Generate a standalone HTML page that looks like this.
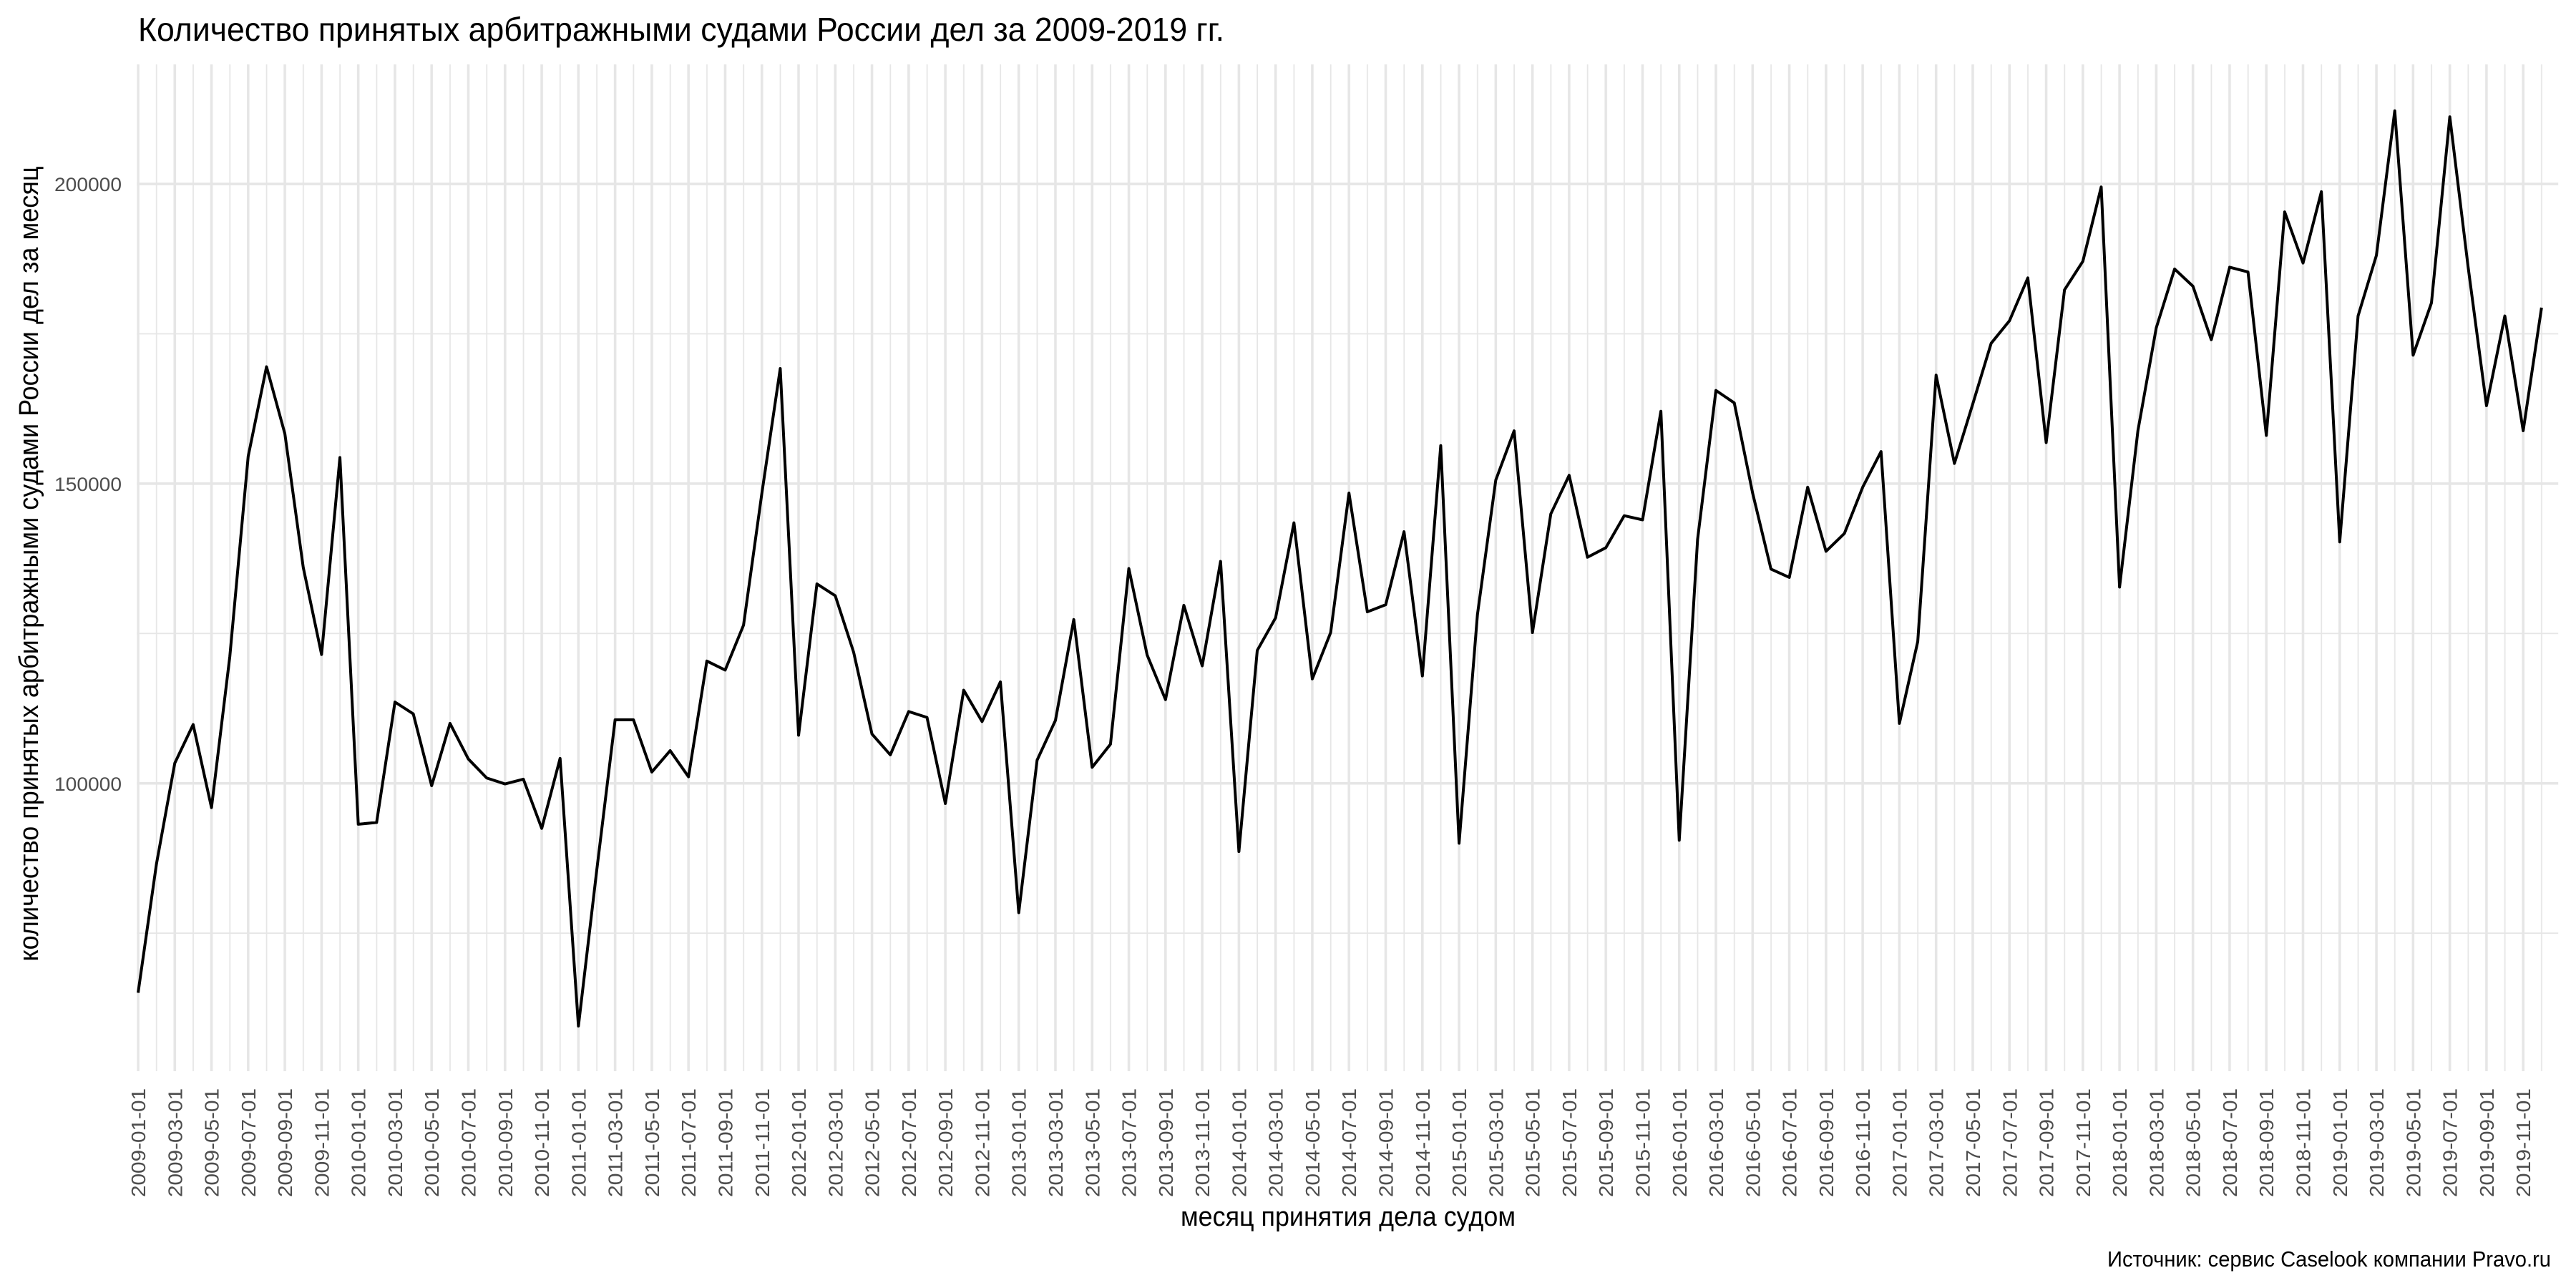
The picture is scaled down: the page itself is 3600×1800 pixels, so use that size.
<!DOCTYPE html>
<html><head><meta charset="utf-8"><style>html,body{margin:0;padding:0;background:#fff}svg{display:block}</style></head>
<body>
<svg width="3600" height="1800" viewBox="0 0 3600 1800" xmlns="http://www.w3.org/2000/svg" font-family="'Liberation Sans', sans-serif">
<defs>
<pattern id="vg" patternUnits="userSpaceOnUse" x="191.2" y="0" width="51.28" height="100">
<rect x="0" y="0" width="3.6" height="100" fill="#e6e6e6"/>
<rect x="26.64" y="0" width="1.8" height="100" fill="#e6e6e6"/>
</pattern>
</defs>
<rect x="0" y="0" width="3600" height="1800" fill="#fff"/>
<rect x="191.2" y="90" width="3384" height="1407" fill="url(#vg)"/>
<g fill="#e6e6e6">
<rect x="191.2" y="465.6" width="3384" height="1.8"/>
<rect x="191.2" y="884.4" width="3384" height="1.8"/>
<rect x="191.2" y="1303.2" width="3384" height="1.8"/>
<rect x="191.2" y="255.3" width="3384" height="3.6"/>
<rect x="191.2" y="674.1" width="3384" height="3.6"/>
<rect x="191.2" y="1092.9" width="3384" height="3.6"/>
</g>
<g transform="translate(193,1094.7) scale(25.64,-8.376) translate(-1,-100)">
<polyline fill="none" stroke="#000" stroke-width="4" vector-effect="non-scaling-stroke" stroke-linejoin="round" points="1,65.05 2,86.53 3,103.37 4,109.8 5,95.94 6,121.19 7,154.55 8,169.5 9,158.32 10,136.04 11,121.49 12,154.36 13,93.17 14,93.47 15,113.56 16,111.58 17,99.6 18,110 19,104.06 20,100.89 21,99.9 22,100.69 23,92.48 24,104.16 25,59.5 26,85.54 27,110.6 28,110.6 29,101.88 30,105.45 31,101.09 32,120.4 33,118.9 34,126.4 35,148.42 36,169.21 37,108.02 38,133.27 39,131.29 40,121.88 41,108.22 42,104.75 43,111.98 44,110.99 45,96.63 46,115.54 47,110.3 48,116.93 49,78.42 50,103.86 51,110.5 52,127.33 53,102.67 54,106.53 55,135.84 56,121.39 57,113.96 58,129.7 59,119.6 60,137.03 61,88.61 62,122.18 63,127.62 64,143.47 65,117.43 66,125.15 67,148.42 68,128.61 69,129.8 70,141.98 71,117.92 72,156.34 73,90 74,128.12 75,150.59 76,158.81 77,125.15 78,144.95 79,151.39 80,137.72 81,139.31 82,144.65 83,143.96 84,162.08 85,90.5 86,140.69 87,165.55 88,163.47 89,148.42 90,135.74 91,134.36 92,149.41 93,138.71 94,141.68 95,149.41 96,155.35 97,110 98,123.66 99,168.1 100,153.37 101,163.3 102,173.41 103,177.18 104,184.33 105,156.85 106,182.34 107,187.1 108,199.5 109,132.74 110,158.83 111,175.99 112,185.81 113,182.94 114,174.01 115,186.11 116,185.32 117,158.04 118,195.34 119,186.81 120,198.71 121,140.28 122,177.98 123,188.1 124,212.2 125,171.43 126,180.16 127,211.21 128,186.11 129,163 130,177.98 131,158.83 132,179.37"/>
</g>
<text x="193" y="57" font-size="46" fill="#000" textLength="1518" lengthAdjust="spacingAndGlyphs">Количество принятых арбитражными судами России дел за 2009-2019 гг.</text>
<g font-size="27" fill="#4d4d4d" text-anchor="end">
<text x="170" y="267" textLength="94" lengthAdjust="spacingAndGlyphs">200000</text>
<text x="170" y="686" textLength="94" lengthAdjust="spacingAndGlyphs">150000</text>
<text x="170" y="1105" textLength="94" lengthAdjust="spacingAndGlyphs">100000</text>
</g>
<text transform="translate(53,788) rotate(-90)" text-anchor="middle" font-size="38" fill="#000" textLength="1111" lengthAdjust="spacingAndGlyphs">количество принятых арбитражными судами России дел за месяц</text>
<g transform="rotate(-90)" font-size="28" fill="#4d4d4d" text-anchor="end">
<text x="-1521" y="203" textLength="152" lengthAdjust="spacingAndGlyphs">2009-01-01</text>
<text x="-1521" y="254.28" textLength="152" lengthAdjust="spacingAndGlyphs">2009-03-01</text>
<text x="-1521" y="305.56" textLength="152" lengthAdjust="spacingAndGlyphs">2009-05-01</text>
<text x="-1521" y="356.84" textLength="152" lengthAdjust="spacingAndGlyphs">2009-07-01</text>
<text x="-1521" y="408.12" textLength="152" lengthAdjust="spacingAndGlyphs">2009-09-01</text>
<text x="-1521" y="459.4" textLength="152" lengthAdjust="spacingAndGlyphs">2009-11-01</text>
<text x="-1521" y="510.68" textLength="152" lengthAdjust="spacingAndGlyphs">2010-01-01</text>
<text x="-1521" y="561.96" textLength="152" lengthAdjust="spacingAndGlyphs">2010-03-01</text>
<text x="-1521" y="613.24" textLength="152" lengthAdjust="spacingAndGlyphs">2010-05-01</text>
<text x="-1521" y="664.52" textLength="152" lengthAdjust="spacingAndGlyphs">2010-07-01</text>
<text x="-1521" y="715.8" textLength="152" lengthAdjust="spacingAndGlyphs">2010-09-01</text>
<text x="-1521" y="767.08" textLength="152" lengthAdjust="spacingAndGlyphs">2010-11-01</text>
<text x="-1521" y="818.36" textLength="152" lengthAdjust="spacingAndGlyphs">2011-01-01</text>
<text x="-1521" y="869.64" textLength="152" lengthAdjust="spacingAndGlyphs">2011-03-01</text>
<text x="-1521" y="920.92" textLength="152" lengthAdjust="spacingAndGlyphs">2011-05-01</text>
<text x="-1521" y="972.2" textLength="152" lengthAdjust="spacingAndGlyphs">2011-07-01</text>
<text x="-1521" y="1023.48" textLength="152" lengthAdjust="spacingAndGlyphs">2011-09-01</text>
<text x="-1521" y="1074.76" textLength="152" lengthAdjust="spacingAndGlyphs">2011-11-01</text>
<text x="-1521" y="1126.04" textLength="152" lengthAdjust="spacingAndGlyphs">2012-01-01</text>
<text x="-1521" y="1177.32" textLength="152" lengthAdjust="spacingAndGlyphs">2012-03-01</text>
<text x="-1521" y="1228.6" textLength="152" lengthAdjust="spacingAndGlyphs">2012-05-01</text>
<text x="-1521" y="1279.88" textLength="152" lengthAdjust="spacingAndGlyphs">2012-07-01</text>
<text x="-1521" y="1331.16" textLength="152" lengthAdjust="spacingAndGlyphs">2012-09-01</text>
<text x="-1521" y="1382.44" textLength="152" lengthAdjust="spacingAndGlyphs">2012-11-01</text>
<text x="-1521" y="1433.72" textLength="152" lengthAdjust="spacingAndGlyphs">2013-01-01</text>
<text x="-1521" y="1485" textLength="152" lengthAdjust="spacingAndGlyphs">2013-03-01</text>
<text x="-1521" y="1536.28" textLength="152" lengthAdjust="spacingAndGlyphs">2013-05-01</text>
<text x="-1521" y="1587.56" textLength="152" lengthAdjust="spacingAndGlyphs">2013-07-01</text>
<text x="-1521" y="1638.84" textLength="152" lengthAdjust="spacingAndGlyphs">2013-09-01</text>
<text x="-1521" y="1690.12" textLength="152" lengthAdjust="spacingAndGlyphs">2013-11-01</text>
<text x="-1521" y="1741.4" textLength="152" lengthAdjust="spacingAndGlyphs">2014-01-01</text>
<text x="-1521" y="1792.68" textLength="152" lengthAdjust="spacingAndGlyphs">2014-03-01</text>
<text x="-1521" y="1843.96" textLength="152" lengthAdjust="spacingAndGlyphs">2014-05-01</text>
<text x="-1521" y="1895.24" textLength="152" lengthAdjust="spacingAndGlyphs">2014-07-01</text>
<text x="-1521" y="1946.52" textLength="152" lengthAdjust="spacingAndGlyphs">2014-09-01</text>
<text x="-1521" y="1997.8" textLength="152" lengthAdjust="spacingAndGlyphs">2014-11-01</text>
<text x="-1521" y="2049.08" textLength="152" lengthAdjust="spacingAndGlyphs">2015-01-01</text>
<text x="-1521" y="2100.36" textLength="152" lengthAdjust="spacingAndGlyphs">2015-03-01</text>
<text x="-1521" y="2151.64" textLength="152" lengthAdjust="spacingAndGlyphs">2015-05-01</text>
<text x="-1521" y="2202.92" textLength="152" lengthAdjust="spacingAndGlyphs">2015-07-01</text>
<text x="-1521" y="2254.2" textLength="152" lengthAdjust="spacingAndGlyphs">2015-09-01</text>
<text x="-1521" y="2305.48" textLength="152" lengthAdjust="spacingAndGlyphs">2015-11-01</text>
<text x="-1521" y="2356.76" textLength="152" lengthAdjust="spacingAndGlyphs">2016-01-01</text>
<text x="-1521" y="2408.04" textLength="152" lengthAdjust="spacingAndGlyphs">2016-03-01</text>
<text x="-1521" y="2459.32" textLength="152" lengthAdjust="spacingAndGlyphs">2016-05-01</text>
<text x="-1521" y="2510.6" textLength="152" lengthAdjust="spacingAndGlyphs">2016-07-01</text>
<text x="-1521" y="2561.88" textLength="152" lengthAdjust="spacingAndGlyphs">2016-09-01</text>
<text x="-1521" y="2613.16" textLength="152" lengthAdjust="spacingAndGlyphs">2016-11-01</text>
<text x="-1521" y="2664.44" textLength="152" lengthAdjust="spacingAndGlyphs">2017-01-01</text>
<text x="-1521" y="2715.72" textLength="152" lengthAdjust="spacingAndGlyphs">2017-03-01</text>
<text x="-1521" y="2767" textLength="152" lengthAdjust="spacingAndGlyphs">2017-05-01</text>
<text x="-1521" y="2818.28" textLength="152" lengthAdjust="spacingAndGlyphs">2017-07-01</text>
<text x="-1521" y="2869.56" textLength="152" lengthAdjust="spacingAndGlyphs">2017-09-01</text>
<text x="-1521" y="2920.84" textLength="152" lengthAdjust="spacingAndGlyphs">2017-11-01</text>
<text x="-1521" y="2972.12" textLength="152" lengthAdjust="spacingAndGlyphs">2018-01-01</text>
<text x="-1521" y="3023.4" textLength="152" lengthAdjust="spacingAndGlyphs">2018-03-01</text>
<text x="-1521" y="3074.68" textLength="152" lengthAdjust="spacingAndGlyphs">2018-05-01</text>
<text x="-1521" y="3125.96" textLength="152" lengthAdjust="spacingAndGlyphs">2018-07-01</text>
<text x="-1521" y="3177.24" textLength="152" lengthAdjust="spacingAndGlyphs">2018-09-01</text>
<text x="-1521" y="3228.52" textLength="152" lengthAdjust="spacingAndGlyphs">2018-11-01</text>
<text x="-1521" y="3279.8" textLength="152" lengthAdjust="spacingAndGlyphs">2019-01-01</text>
<text x="-1521" y="3331.08" textLength="152" lengthAdjust="spacingAndGlyphs">2019-03-01</text>
<text x="-1521" y="3382.36" textLength="152" lengthAdjust="spacingAndGlyphs">2019-05-01</text>
<text x="-1521" y="3433.64" textLength="152" lengthAdjust="spacingAndGlyphs">2019-07-01</text>
<text x="-1521" y="3484.92" textLength="152" lengthAdjust="spacingAndGlyphs">2019-09-01</text>
<text x="-1521" y="3536.2" textLength="152" lengthAdjust="spacingAndGlyphs">2019-11-01</text>
</g>
<text x="1884" y="1713" text-anchor="middle" font-size="38" fill="#000" textLength="468" lengthAdjust="spacingAndGlyphs">месяц принятия дела судом</text>
<text x="3565" y="1770" text-anchor="end" font-size="31" fill="#000" textLength="620" lengthAdjust="spacingAndGlyphs">Источник: сервис Caselook компании Pravo.ru</text>
</svg>
</body></html>
